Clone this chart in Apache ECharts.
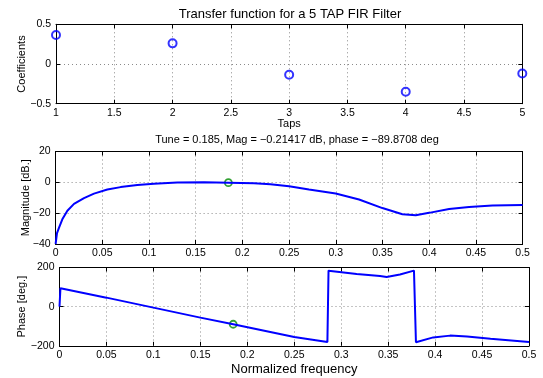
<!DOCTYPE html>
<html>
<head>
<meta charset="utf-8">
<script src="https://cdn.jsdelivr.net/npm/echarts@6/dist/echarts.min.js"></script>
<style>
  html, body { margin: 0; padding: 0; background: #fff; }
  #chart { width: 543px; height: 378px; }
</style>
</head>
<body>
<div id="chart"></div>
<script>
// FIR tap coefficients
const taps = [1, 2, 3, 4, 5];
const coefficients = [0.365, 0.26, -0.135, -0.35, -0.12];

// Magnitude response (normalized frequency, dB)
const magFreq = [0, 0.0015, 0.0036, 0.0072, 0.0126, 0.0197, 0.0304, 0.0411, 0.0554, 0.0696,
  0.0875, 0.1053, 0.1303, 0.1589, 0.185, 0.2124, 0.23, 0.25, 0.2713, 0.2999,
  0.3249, 0.3499, 0.3713, 0.3856, 0.3999, 0.4213, 0.4427, 0.4677, 0.5];
const magDb = [-40, -33, -29.6, -24, -18.4, -14, -10.2, -7.3, -4.7, -3.1,
  -1.8, -0.9, -0.1, 0, -0.21, -0.6, -1.3, -2.6, -4.7, -7.3,
  -11.1, -16.7, -20.7, -21.3, -19.8, -17.3, -16, -15.1, -14.7];

// Phase response (normalized frequency, degrees, wrapped)
const phaseFreq = [0, 0.001, 0.05, 0.1, 0.15, 0.185, 0.25, 0.2853, 0.2865, 0.3165,
  0.3413, 0.3484, 0.3626, 0.3775, 0.3796, 0.398, 0.416, 0.434, 0.459, 0.5];
const phaseDeg = [0, 94, 46, -5, -56, -89.87, -155, -181, 184, 167,
  157, 152, 164, 184, -182, -157, -148, -153, -164, -180];

// Tuned operating point
const tuneFreq = 0.185;
const tuneMag = -0.21417;
const tunePhase = -89.8708;

// Axis tick layouts: [min, max, step]
const tapTicks = [1, 5, 0.5];
const coefTicks = [-0.5, 0.5, 0.5];
const freqTicks = [0, 0.5, 0.05];
const magTicks = [-40, 20, 20];
const phaseTicks = [-200, 200, 200];

const FONT = 'Liberation Sans, Arial, Helvetica, sans-serif';
const minus = v => String(v).replace('-', '\u2212');
const pairs = (xs, ys) => xs.map((x, i) => [x, ys[i]]);

const grids = [
  { left: 56, right: 20.7, top: 24.3, height: 79.4 },
  { left: 55.6, right: 20.4, top: 151.5, height: 92.5 },
  { left: 59.5, right: 14, top: 267.5, height: 78.3 }
];

const tickLine = { show: true, inside: true, length: 4, lineStyle: { color: '#000', width: 1 } };
const axLine = { show: true, onZero: false, lineStyle: { color: '#000', width: 1 } };
const gridLine = { show: true, lineStyle: { color: '#8a8a8a', width: 1, type: [1, 3] } };
const tickLabel = { color: '#000', fontFamily: FONT, fontSize: 10.5, formatter: minus };

function axisPair(dim, gridIndex, ticks, name, nameGap, nameSize) {
  const [min, max, interval] = ticks;
  const main = {
    type: 'value', gridIndex, min, max, interval,
    position: dim === 'x' ? 'bottom' : 'left',
    axisLine: axLine, axisTick: tickLine,
    axisLabel: Object.assign({ margin: dim === 'x' ? 4 : 5 }, tickLabel),
    splitLine: gridLine,
    name, nameLocation: 'middle', nameGap, nameMoveOverlap: false,
    nameTextStyle: { color: '#000', fontFamily: FONT, fontSize: nameSize }
  };
  const mirror = {
    type: 'value', gridIndex, min, max, interval,
    position: dim === 'x' ? 'top' : 'right',
    axisLine: axLine, axisTick: tickLine,
    axisLabel: { show: false }, splitLine: { show: false }
  };
  return [main, mirror];
}

const xAxis = [
  ...axisPair('x', 0, tapTicks, 'Taps', 14.5, 11),
  ...axisPair('x', 1, freqTicks, '', 0, 11),
  ...axisPair('x', 2, freqTicks, 'Normalized frequency', 17.5, 13)
];
const yAxis = [
  ...axisPair('y', 0, coefTicks, 'Coefficients', 29, 11),
  ...axisPair('y', 1, magTicks, 'Magnitude [dB.]', 24, 11),
  ...axisPair('y', 2, phaseTicks, 'Phase [deg.]', 32, 11)
];

const blueLine = { color: '#0000ff', width: 2 };
const greenRing = { color: '#fff', borderColor: '#008a00', borderWidth: 1.8 };

const option = {
  animation: false,
  backgroundColor: '#fff',
  title: [
    {
      text: 'Transfer function for a 5 TAP FIR Filter',
      left: 290, top: 7.5, textAlign: 'center', padding: 0,
      textStyle: { color: '#000', fontFamily: FONT, fontSize: 13, fontWeight: 'normal' }
    },
    {
      text: 'Tune = ' + tuneFreq + ', Mag = ' + minus(tuneMag) + ' dB, phase = ' + minus(tunePhase) + ' deg',
      left: 297, top: 134.5, textAlign: 'center', padding: 0,
      textStyle: { color: '#000', fontFamily: FONT, fontSize: 11, fontWeight: 'normal' }
    }
  ],
  grid: grids.map(g => Object.assign({ containLabel: false, show: false }, g)),
  xAxis,
  yAxis,
  series: [
    {
      type: 'scatter', xAxisIndex: 0, yAxisIndex: 0, clip: false,
      data: pairs(taps, coefficients),
      symbol: 'circle', symbolSize: 8,
      itemStyle: { color: 'rgba(0,0,0,0)', borderColor: '#0000ff', borderWidth: 2 }
    },
    {
      type: 'line', xAxisIndex: 2, yAxisIndex: 2,
      data: pairs(magFreq, magDb),
      showSymbol: false, lineStyle: blueLine, itemStyle: { color: '#0000ff' }
    },
    {
      type: 'scatter', xAxisIndex: 2, yAxisIndex: 2, clip: false,
      data: [[tuneFreq, tuneMag]], symbol: 'circle', symbolSize: 7, itemStyle: greenRing
    },
    {
      type: 'line', xAxisIndex: 4, yAxisIndex: 4,
      data: pairs(phaseFreq, phaseDeg),
      showSymbol: false, lineStyle: blueLine, itemStyle: { color: '#0000ff' }
    },
    {
      type: 'scatter', xAxisIndex: 4, yAxisIndex: 4, clip: false,
      data: [[tuneFreq, tunePhase]], symbol: 'circle', symbolSize: 7, itemStyle: greenRing
    }
  ]
};

const chart = echarts.init(document.getElementById('chart'), null, { renderer: 'canvas' });
chart.setOption(option);
</script>
</body>
</html>
